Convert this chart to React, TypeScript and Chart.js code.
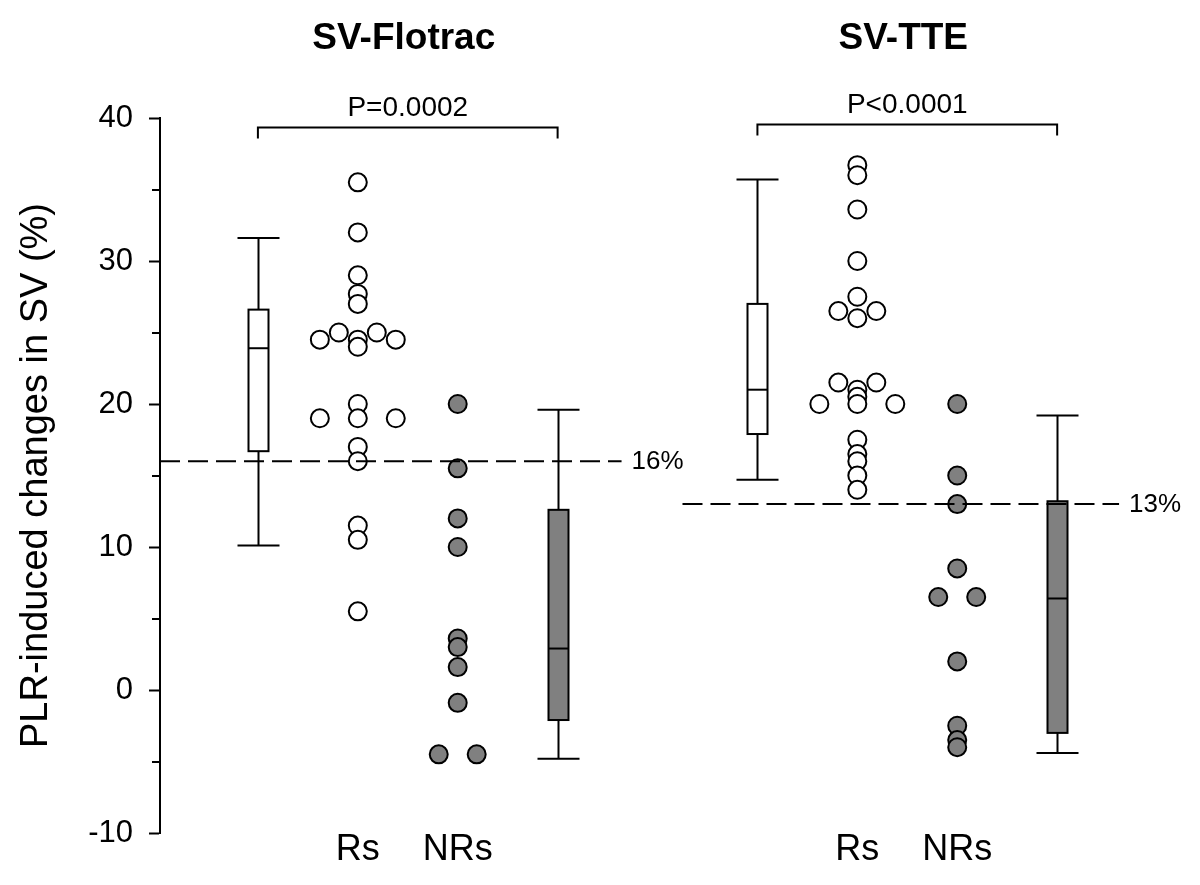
import React, { useEffect, useRef } from 'react';
import { Chart, registerables } from 'chart.js';

Chart.register(...registerables);

// ---------- data ----------
const groupTitles = ['SV-Flotrac', 'SV-TTE'];
const pValueTexts = ['P=0.0002', 'P<0.0001'];
const categoryLabels = ['Rs', 'NRs'];
const thresholdValues = [16, 13];
const thresholdLabels = ['16%', '13%'];
const yTickValues = [-10, 0, 10, 20, 30, 40];

const flotracRs = [35.5, 32, 29, 27.7, 27, 25, 25, 24.5, 24.5, 24.5, 24, 20, 19, 19, 19, 17, 16, 11.5, 10.5, 5.5];
const flotracNRs = [20, 15.5, 12, 10, 3.6, 3, 1.6, -0.9, -4.5, -4.5];
const tteRs = [36.7, 36, 33.6, 30, 27.5, 26.5, 26.5, 26, 21.5, 21.5, 21, 20.5, 20, 20, 20, 17.5, 16.5, 16, 15, 14];
const tteNRs = [20, 15, 13, 8.5, 6.5, 6.5, 2, -2.5, -3.5, -4];

// box stats: [lower whisker, Q1, median, Q3, upper whisker]
const flotracRsBox = [10.1, 16.7, 23.9, 26.6, 31.6];
const flotracNRsBox = [-4.8, -2.1, 2.9, 12.6, 19.6];
const tteRsBox = [14.7, 17.9, 21.0, 27.0, 35.7];
const tteNRsBox = [-4.4, -3.0, 6.4, 13.2, 19.2];

// significance bracket levels
const bracketLevels = [39.4, 39.6];

// ---------- layout ----------
const FONT = '"Liberation Sans", Arial, Helvetica, sans-serif';
const GROUP_SLOTS = [
  { rsBox: 1, rs: 2, nrs: 3, nrsBox: 4, lineFrom: 0.02, lineTo: 4.64 },
  { rsBox: 6, rs: 7, nrs: 8, nrsBox: 9, lineFrom: 5.25, lineTo: 9.62 },
];
const SWARM_STEP = 0.38;

function swarm(values: number[], center: number) {
  const counts = new Map<number, number>();
  values.forEach((v) => counts.set(v, (counts.get(v) || 0) + 1));
  const seen = new Map<number, number>();
  return values.map((v) => {
    const n = counts.get(v) || 1;
    const i = seen.get(v) || 0;
    seen.set(v, i + 1);
    return { x: center + (i - (n - 1) / 2) * SWARM_STEP, y: v };
  });
}

const boxes = [
  { x: GROUP_SLOTS[0].rsBox, s: flotracRsBox, fill: '#ffffff' },
  { x: GROUP_SLOTS[0].nrsBox, s: flotracNRsBox, fill: '#808080' },
  { x: GROUP_SLOTS[1].rsBox, s: tteRsBox, fill: '#ffffff' },
  { x: GROUP_SLOTS[1].nrsBox, s: tteNRsBox, fill: '#808080' },
];

const overlayPlugin = {
  id: 'overlay',
  beforeDatasetsDraw(chart: any) {
    const { ctx } = chart;
    const xs = chart.scales.x;
    const ys = chart.scales.y;
    ctx.save();
    ctx.strokeStyle = '#000';
    ctx.lineWidth = 2;
    boxes.forEach((b) => {
      const cx = Math.round(xs.getPixelForValue(b.x)) + 0.5;
      const halfBox = 10;
      const halfCap = 21;
      const [lo, q1, med, q3, hi] = b.s.map((v) => ys.getPixelForValue(v));
      ctx.beginPath();
      ctx.moveTo(cx, hi);
      ctx.lineTo(cx, q3);
      ctx.moveTo(cx, q1);
      ctx.lineTo(cx, lo);
      ctx.moveTo(cx - halfCap, hi);
      ctx.lineTo(cx + halfCap, hi);
      ctx.moveTo(cx - halfCap, lo);
      ctx.lineTo(cx + halfCap, lo);
      ctx.stroke();
      ctx.fillStyle = b.fill;
      ctx.fillRect(cx - halfBox, q3, halfBox * 2, q1 - q3);
      ctx.strokeRect(cx - halfBox, q3, halfBox * 2, q1 - q3);
      ctx.beginPath();
      ctx.moveTo(cx - halfBox, med);
      ctx.lineTo(cx + halfBox, med);
      ctx.stroke();
    });
    ctx.restore();
  },
  afterDraw(chart: any) {
    const { ctx, chartArea } = chart;
    const xs = chart.scales.x;
    const ys = chart.scales.y;
    ctx.save();
    ctx.fillStyle = '#000';
    ctx.strokeStyle = '#000';
    ctx.lineWidth = 2;

    // minor ticks
    for (let v = -5; v < 40; v += 10) {
      const py = Math.round(ys.getPixelForValue(v));
      ctx.beginPath();
      ctx.moveTo(chartArea.left - 8, py);
      ctx.lineTo(chartArea.left, py);
      ctx.stroke();
    }

    GROUP_SLOTS.forEach((g, gi) => {
      const x1 = xs.getPixelForValue(g.rsBox);
      const x2 = xs.getPixelForValue(g.nrsBox);
      const by = Math.round(ys.getPixelForValue(bracketLevels[gi])) + 0.5;
      const mid = (x1 + x2) / 2;
      // bracket
      ctx.beginPath();
      ctx.moveTo(x1, by + 11);
      ctx.lineTo(x1, by);
      ctx.lineTo(x2, by);
      ctx.lineTo(x2, by + 11);
      ctx.stroke();
      // p value
      ctx.textAlign = 'center';
      ctx.textBaseline = 'alphabetic';
      ctx.font = `28px ${FONT}`;
      ctx.fillText(pValueTexts[gi], mid, by - 12);
      // group title
      ctx.font = `bold 37px ${FONT}`;
      ctx.fillText(groupTitles[gi], mid - 4, chartArea.top - 69);
      // category labels
      ctx.font = `36px ${FONT}`;
      ctx.fillText(categoryLabels[0], xs.getPixelForValue(g.rs), chartArea.bottom + 27);
      ctx.fillText(categoryLabels[1], xs.getPixelForValue(g.nrs), chartArea.bottom + 27);
      // threshold label
      ctx.textAlign = 'left';
      ctx.textBaseline = 'middle';
      ctx.font = `26px ${FONT}`;
      ctx.fillText(
        thresholdLabels[gi],
        xs.getPixelForValue(g.lineTo) + 10,
        ys.getPixelForValue(thresholdValues[gi]) + 1
      );
    });
    ctx.restore();
  },
};

export default function App() {
  const canvasRef = useRef<HTMLCanvasElement | null>(null);

  useEffect(() => {
    if (!canvasRef.current) return;
    const dotDataset = (data: number[], center: number, fill: string) => ({
      type: 'scatter' as const,
      data: swarm(data, center),
      backgroundColor: fill,
      borderColor: '#000',
      borderWidth: 2,
      pointRadius: 9,
      pointHoverRadius: 9,
      order: 2,
    });
    const lineDataset = (gi: number) => ({
      type: 'line' as const,
      data: [
        { x: GROUP_SLOTS[gi].lineFrom, y: thresholdValues[gi] },
        { x: GROUP_SLOTS[gi].lineTo, y: thresholdValues[gi] },
      ],
      borderColor: '#000',
      borderWidth: 2,
      borderDash: [20, 8],
      pointRadius: 0,
      fill: false,
      order: 1,
    });

    const chart = new Chart(canvasRef.current, {
      type: 'scatter',
      data: {
        datasets: [
          dotDataset(flotracRs, GROUP_SLOTS[0].rs, '#ffffff'),
          dotDataset(flotracNRs, GROUP_SLOTS[0].nrs, '#808080'),
          dotDataset(tteRs, GROUP_SLOTS[1].rs, '#ffffff'),
          dotDataset(tteNRs, GROUP_SLOTS[1].nrs, '#808080'),
          lineDataset(0),
          lineDataset(1),
        ] as any,
      },
      options: {
        animation: false,
        responsive: false,
        maintainAspectRatio: false,
        layout: { padding: { top: 118, bottom: 52, left: 0, right: 10 } },
        plugins: {
          legend: { display: false },
          tooltip: { enabled: false },
          title: { display: false },
        },
        scales: {
          x: {
            type: 'linear',
            display: false,
            min: 0.02,
            max: 10.32,
          },
          y: {
            type: 'linear',
            min: -10,
            max: 40,
            afterFit: (scale: any) => {
              scale.width = 160;
            },
            afterBuildTicks: (scale: any) => {
              scale.ticks = yTickValues.map((v) => ({ value: v }));
            },
            ticks: {
              color: '#000',
              font: { family: FONT, size: 31 },
              padding: 16,
              autoSkip: false,
            },
            grid: {
              drawOnChartArea: false,
              drawTicks: true,
              tickLength: 11,
              tickWidth: 2,
              tickColor: '#000',
            },
            border: { display: true, color: '#000', width: 2 },
            title: {
              display: true,
              text: 'PLR-induced changes in SV (%)',
              color: '#000',
              font: { family: FONT, size: 38 },
              padding: { top: 14, bottom: 0 },
            },
          },
        },
      } as any,
      plugins: [overlayPlugin],
    });
    return () => chart.destroy();
  }, []);

  return (
    <div style={{ position: 'absolute', left: 0, top: 0, width: 1200, height: 885, background: '#fff' }}>
      <canvas ref={canvasRef} width={1200} height={885} style={{ width: 1200, height: 885, display: 'block' }} />
    </div>
  );
}
